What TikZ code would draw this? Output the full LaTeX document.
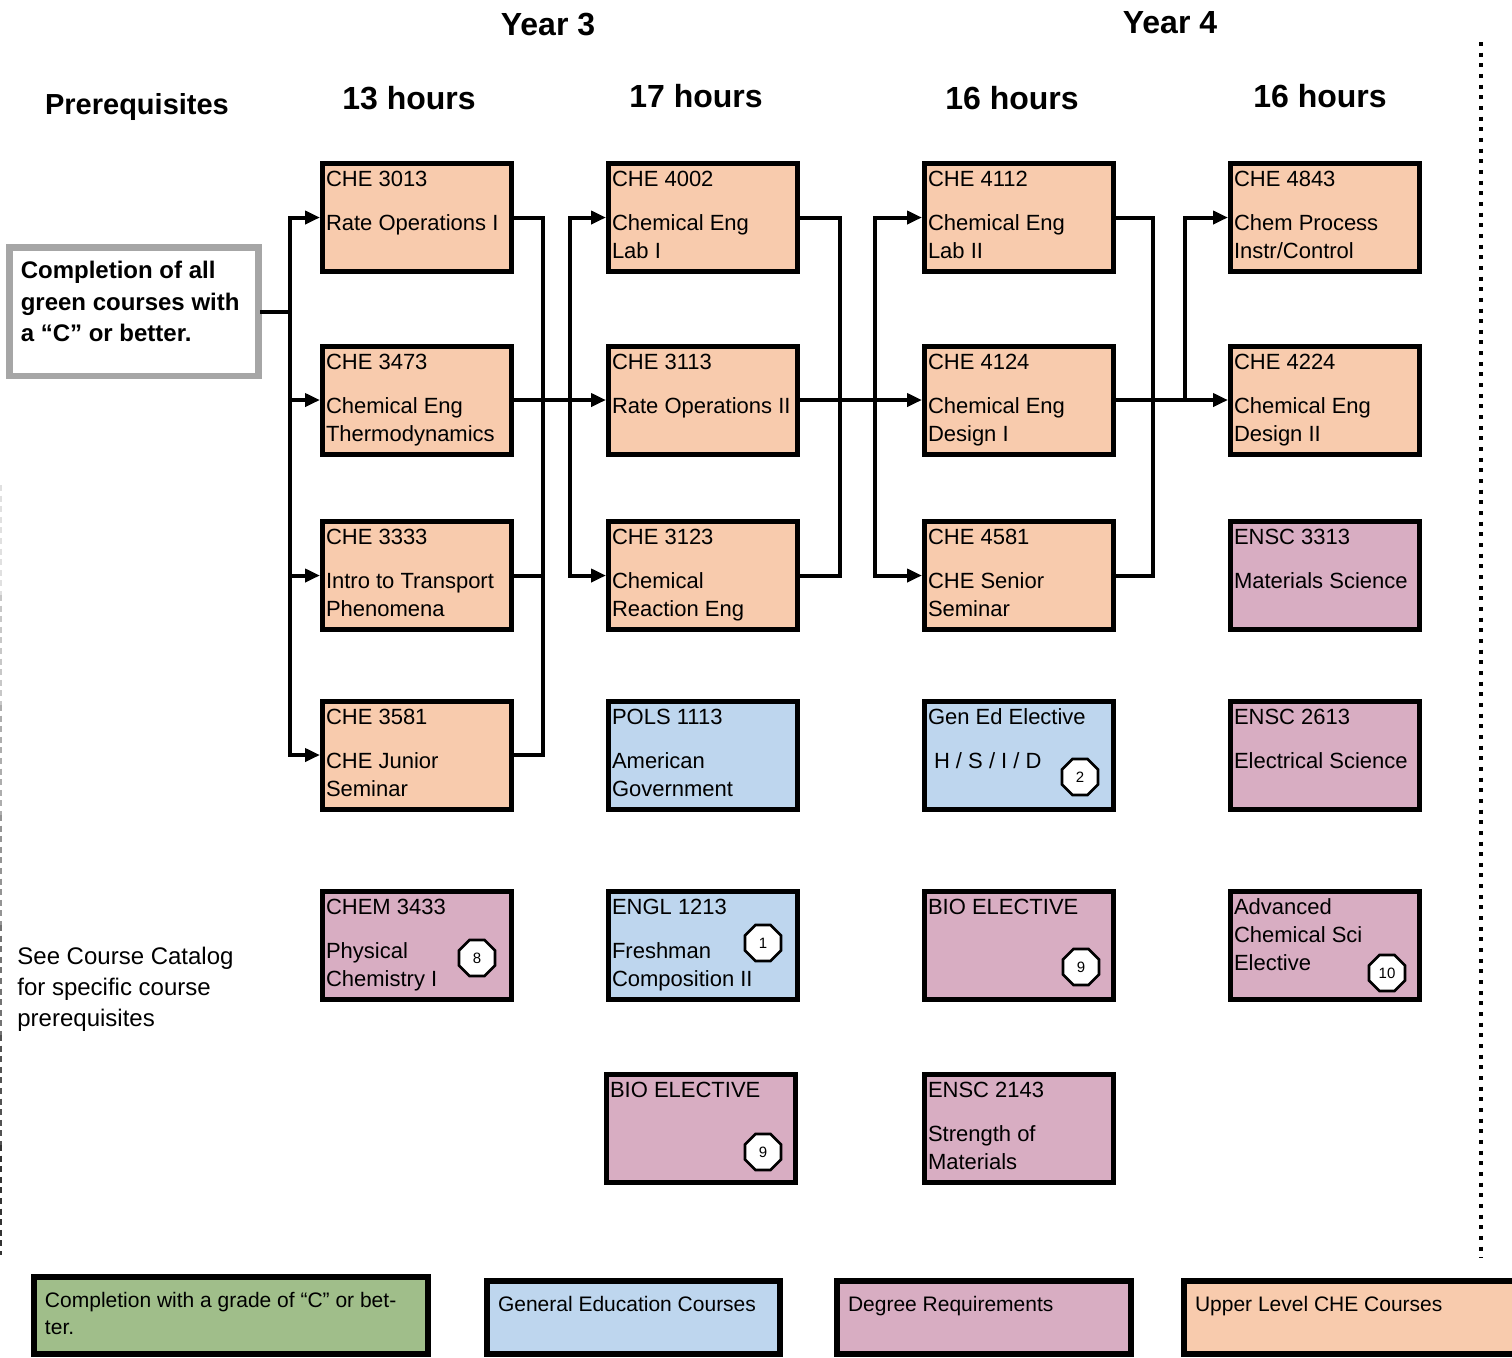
\documentclass[tikz,border=0pt]{standalone}
\usepackage{fontspec}
\setmainfont{Liberation Sans}
\usepackage{tikz}
\usetikzlibrary{arrows.meta, shapes.geometric}
\definecolor{planOrange}{HTML}{F8CBAD}
\definecolor{planBlue}{HTML}{BED6EE}
\definecolor{planPink}{HTML}{D8ADC2}
\definecolor{planGreen}{HTML}{A0BE8A}
\definecolor{planGray}{HTML}{A6A6A6}

\newcommand{\crs}[2]{\parbox[c][46pt][t]{91pt}{\raggedright #1\\[8pt]#2}}
\newcommand{\crsx}[1]{\parbox[c][46pt][t]{91pt}{\raggedright #1}}

\begin{document}
\begin{tikzpicture}[x=0.5pt, y=-0.5pt,
  course/.style={draw, line width=2.5pt, inner xsep=1.75pt, inner ysep=4pt,
                 font=\fontsize{11}{14}\selectfont},
  badge/.style={draw, fill=white, line width=1.3pt, regular polygon, regular polygon sides=8,
                minimum size=19.5pt, inner sep=0pt, font=\fontsize{7.5}{8}\selectfont},
  legend/.style={draw, line width=3pt, anchor=north west, inner xsep=5.5pt, inner ysep=7.5pt,
                 font=\fontsize{10.5}{13.5}\selectfont},
  heading/.style={anchor=base, inner sep=0pt, font=\fontsize{16}{19}\selectfont\bfseries},
  link/.style={line width=2pt, line cap=rect},
  arrow/.style={link, -{Triangle[length=7.5pt,width=6.5pt]}},
  sidedash/.style={line width=1pt, dash pattern=on 3pt off 2.3pt},
]
  \useasboundingbox (0,0) rectangle (1512,1357);

  % headings
  \node[heading] (year3) at (548,35) {Year 3};
  \node[heading] (year4) at (1170,33) {Year 4};
  \node[heading, font=\fontsize{14.5}{17}\selectfont\bfseries] (prereqhead) at (137,114) {Prerequisites};
  \node[heading] (hours1) at (409,109) {13 hours};
  \node[heading] (hours2) at (696,107) {17 hours};
  \node[heading] (hours3) at (1012,109) {16 hours};
  \node[heading] (hours4) at (1320,107) {16 hours};

  \node[draw=planGray, line width=3.3pt, anchor=north west, inner xsep=5.75pt, inner ysep=7pt,
        font=\fontsize{12}{15.75}\selectfont\bfseries] (prereq) at (6,244)
    {\parbox[c][50.25pt][t]{113pt}{\raggedright Completion of all\\green courses with\\a “C” or better.}};
  \node[anchor=north west, inner sep=0pt, font=\fontsize{12}{15.5}\selectfont] (catalog) at (17,947)
    {\parbox[t]{130pt}{\raggedright See Course Catalog\\for specific course\\prerequisites}};

  % year 3, first semester
  \node[course, fill=planOrange] (c3013) at (417,217.5) {\crs{CHE 3013}{Rate Operations I}};
  \node[course, fill=planOrange] (c3473) at (417,400) {\crs{CHE 3473}{Chemical Eng\\Thermodynamics}};
  \node[course, fill=planOrange] (c3333) at (417,575.5) {\crs{CHE 3333}{Intro to Transport\\Phenomena}};
  \node[course, fill=planOrange] (c3581) at (417,755) {\crs{CHE 3581}{CHE Junior\\Seminar}};
  \node[course, fill=planPink]   (chem3433) at (417,945) {\crs{CHEM 3433}{Physical\\Chemistry I}};

  % year 3, second semester
  \node[course, fill=planOrange] (c4002) at (703,217.5) {\crs{CHE 4002}{Chemical Eng\\Lab I}};
  \node[course, fill=planOrange] (c3113) at (703,400) {\crs{CHE 3113}{Rate Operations II}};
  \node[course, fill=planOrange] (c3123) at (703,575.5) {\crs{CHE 3123}{Chemical\\Reaction Eng}};
  \node[course, fill=planBlue]   (pols1113) at (703,755) {\crs{POLS 1113}{American\\Government}};
  \node[course, fill=planBlue]   (engl1213) at (703,945) {\crs{ENGL 1213}{Freshman\\Composition II}};
  \node[course, fill=planPink]   (bio3) at (701,1128) {\crsx{BIO ELECTIVE}};

  % year 4, first semester
  \node[course, fill=planOrange] (c4112) at (1019,217.5) {\crs{CHE 4112}{Chemical Eng\\Lab II}};
  \node[course, fill=planOrange] (c4124) at (1019,400) {\crs{CHE 4124}{Chemical Eng\\Design I}};
  \node[course, fill=planOrange] (c4581) at (1019,575.5) {\crs{CHE 4581}{CHE Senior\\Seminar}};
  \node[course, fill=planBlue]   (gened) at (1019,755) {\crs{Gen Ed Elective}{\hspace*{3pt}H / S / I / D}};
  \node[course, fill=planPink]   (bio4) at (1019,945) {\crsx{BIO ELECTIVE}};
  \node[course, fill=planPink]   (ensc2143) at (1019,1128) {\crs{ENSC 2143}{Strength of\\Materials}};

  % year 4, second semester
  \node[course, fill=planOrange] (c4843) at (1325,217.5) {\crs{CHE 4843}{Chem Process\\Instr/Control}};
  \node[course, fill=planOrange] (c4224) at (1325,400) {\crs{CHE 4224}{Chemical Eng\\Design II}};
  \node[course, fill=planPink]   (ensc3313) at (1325,575.5) {\crs{ENSC 3313}{Materials Science}};
  \node[course, fill=planPink]   (ensc2613) at (1325,755) {\crs{ENSC 2613}{Electrical Science}};
  \node[course, fill=planPink]   (advsci) at (1325,945) {\crsx{Advanced\\Chemical Sci\\Elective}};

  % footnote marks
  \node[badge] (note8) at (477,958) {8};
  \node[badge] (note1) at (763,943) {1};
  \node[badge] (note9a) at (763,1152) {9};
  \node[badge] (note2) at (1080,777) {2};
  \node[badge] (note9b) at (1081,967) {9};
  \node[badge] (note10) at (1387,973) {10};

  % buses
  \coordinate (busA) at (290,0);
  \coordinate (busB) at (543,0);
  \coordinate (busC) at (570,0);
  \coordinate (busD) at (840,0);
  \coordinate (busE) at (875,0);
  \coordinate (busF) at (1153,0);
  \coordinate (busG) at (1185,0);

  \draw[link] (prereq.east) -- (prereq.east -| busA);
  \foreach \n in {c3013,c3473,c3333,c3581}
    \draw[arrow] (prereq.east -| busA) |- (\n.west);

  \draw[link] (c3013.east) -- (c3013.east -| busB) -- (c3581.east -| busB) -- (c3581.east);
  \draw[link] (c3333.east) -- (c3333.east -| busB);
  \draw[arrow] (c3473.east) -- (c3113.west);
  \foreach \n in {c4002,c3123}
    \draw[arrow] (c3113.west -| busC) |- (\n.west);

  \draw[link] (c4002.east) -- (c4002.east -| busD) -- (c3123.east -| busD) -- (c3123.east);
  \draw[arrow] (c3113.east) -- (c4124.west);
  \foreach \n in {c4112,c4581}
    \draw[arrow] (c4124.west -| busE) |- (\n.west);

  \draw[link] (c4112.east) -- (c4112.east -| busF) -- (c4581.east -| busF) -- (c4581.east);
  \draw[arrow] (c4124.east) -- (c4224.west);
  \draw[arrow] (c4224.west -| busG) |- (c4843.west);

  % page margins
  \draw[line width=2pt, dash pattern=on 2pt off 3.33pt] (1481,42) -- (1481,1258);
  \foreach \y/\s in {485/12,595/22,705/32,815/42,925/55,1035/68,1145/80}
    \draw[sidedash, black!\s] (1,\y) -- (1,\y+110);

  % legend
  \node[legend, fill=planGreen] (keygreen) at (31,1274)
    {\parbox[c][23.5pt][t]{186pt}{\raggedright Completion with a grade of “C” or bet-\\ter.}};
  \node[legend, fill=planBlue] (keyblue) at (484,1278)
    {\parbox[c][21.5pt][t]{135.5pt}{\raggedright General Education Courses}};
  \node[legend, fill=planPink] (keypink) at (834,1278)
    {\parbox[c][21.5pt][t]{136pt}{\raggedright Degree Requirements}};
  \node[legend, fill=planOrange] (keyorange) at (1181,1278)
    {\parbox[c][21.5pt][t]{159pt}{\raggedright Upper Level CHE Courses}};
\end{tikzpicture}
\end{document}
